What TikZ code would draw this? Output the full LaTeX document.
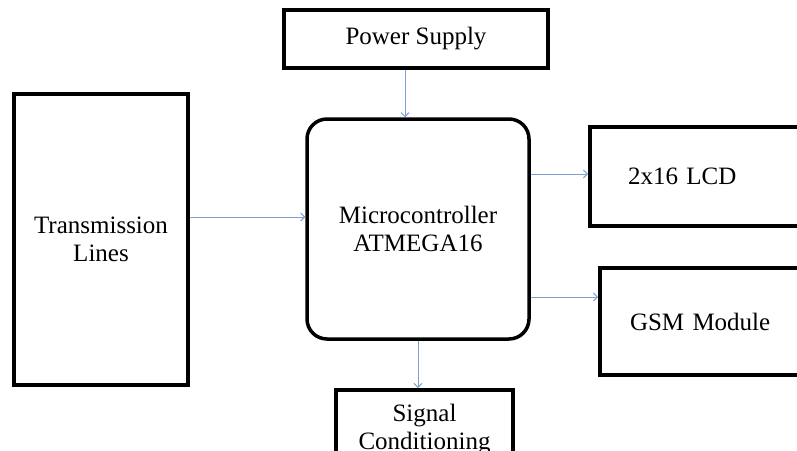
\documentclass[tikz,border=0pt]{standalone}
\usepackage{fontspec}
\setmainfont{Liberation Serif}
\usetikzlibrary{arrows.meta}
\definecolor{linkblue}{RGB}{125,160,210}

\begin{document}
\begin{tikzpicture}[x=1pt,y=-1pt,
        blk/.style={draw,line width=4pt,inner sep=0pt,align=center,font=\fontsize{25}{28}\selectfont},
        feed/.style={draw=linkblue,line width=0.9pt,-{Straight Barb[length=4pt,width=8pt]}}]
        \clip (0,0) rectangle (797,450);
        \node [blk,minimum width=264pt,minimum height=58pt] (ps) at (416,39) {Power Supply};
        \node [blk,minimum width=174pt,minimum height=291pt] (tl) at (101,239.5) {Transmission\\Lines};
        \node [blk,line width=3.5pt,rounded corners=20pt,minimum width=222pt,minimum height=220pt] (mcu) at (418,229) {Microcontroller\\ATMEGA16};
        \node [blk,align=left,text width=144pt,minimum width=220pt,minimum height=99pt] (lcd) at (700,176.5) {2x16 LCD};
        \node [blk,align=left,text width=150pt,minimum width=210pt,minimum height=107pt] (gsm) at (705,321.5) {GSM Module};
        \node [blk,minimum width=177pt,minimum height=80pt] (sc) at (424.5,430) {Signal\\Conditioning};
        \draw [feed] ([xshift=-11pt]ps.south) -- ([xshift=-11pt]ps.south |- mcu.north);
        \draw [feed] ([yshift=22.5pt]tl.east) -- ([yshift=22.5pt]tl.east -| mcu.west);
        \draw [feed] ([yshift=2.5pt]lcd.west -| mcu.east) -- ([yshift=2.5pt]lcd.west);
        \draw [feed] ([yshift=24.5pt]gsm.west -| mcu.east) -- ([yshift=24.5pt]gsm.west);
        \draw [feed] (mcu.south) -- (mcu.south |- sc.north);
    \end{tikzpicture}
\end{document}
